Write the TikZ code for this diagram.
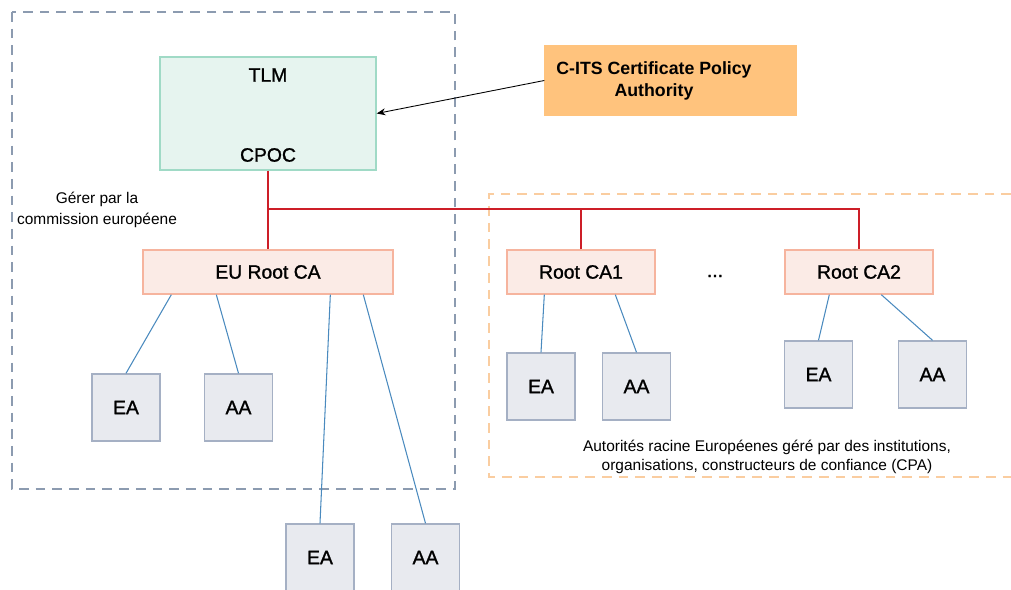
\documentclass[tikz,border=0pt]{standalone}
\usepackage{fontspec}
\setmainfont{Liberation Sans}
\newfontfamily\boxfont{Liberation Sans}[BoldFont={Liberation Sans},BoldFeatures={FakeBold=1.2}]
\usetikzlibrary{arrows.meta,calc}

\definecolor{frameGrey}{RGB}{140,155,176}
\definecolor{frameOrange}{RGB}{250,205,160}
\definecolor{tlmFill}{RGB}{230,244,239}
\definecolor{tlmLine}{RGB}{160,218,198}
\definecolor{cpaFill}{RGB}{255,195,125}
\definecolor{rootFill}{RGB}{251,235,230}
\definecolor{rootLine}{RGB}{246,180,158}
\definecolor{leafFill}{RGB}{232,234,239}
\definecolor{leafLine}{RGB}{165,176,196}
\definecolor{linkBlue}{RGB}{74,138,190}
\definecolor{linkRed}{RGB}{205,30,40}

\begin{document}
\begin{tikzpicture}[x=0.02cm,y=-0.02cm,>={Stealth[length=5pt,width=4pt]},
  box/.style={draw,line width=0.8pt,inner sep=0pt,font=\boxfont\bfseries\fontsize{11}{13}\selectfont},
  rootbox/.style={box,draw=rootLine,fill=rootFill,minimum width=2.96cm,minimum height=0.88cm},
  leafbox/.style={box,draw=leafLine,fill=leafFill,minimum width=1.36cm,minimum height=1.34cm},
  note/.style={align=center,font=\fontsize{8.8}{10.8}\selectfont},
  framedash/.style={line width=0.6pt,dash pattern=on 5.5pt off 4pt},
  redlink/.style={linkRed,line width=0.7pt},
  bluelink/.style={linkBlue,line width=0.6pt}]
\useasboundingbox (0,0) rectangle (1011,590);

% Frames
\draw[framedash,frameGrey] (12,12) rectangle (455,489);
\draw[framedash,frameOrange] (1011,194) -- (489,194) -- (489,477) -- (1011,477);

% TLM and policy authority
\node[box,draw=tlmLine,fill=tlmFill,minimum width=4.32cm,minimum height=2.26cm] (tlm) at (268,113.5) {};
\node[box,draw=none] (tlmlabel) at (268,75) {TLM};
\node[box,draw=none] (cpoc) at (268,155) {CPOC};
\node[box,draw=cpaFill,fill=cpaFill,minimum width=5.02cm,minimum height=1.38cm] (cpa) at (670.5,80.5) {};
\node[box,draw=none,align=center,font=\rmfamily\bfseries\fontsize{10.1}{12.5}\selectfont] (cpalabel) at (654,81) {C-ITS Certificate Policy\\Authority};
\draw[->,line width=0.5pt] (cpa.west) -- (tlm.east);

% Root CAs
\node[rootbox,minimum width=5cm] (euroot) at (268,272) {EU Root CA};
\node[rootbox] (rootca1) at (581,272) {Root CA1};
\node[rootbox] (rootca2) at (859,272) {Root CA2};
\node[box,draw=none] (dots) at (715,276) {...};

% red bus
\coordinate (bus) at (268,209);
\draw[redlink] (tlm.south) -- (euroot.north);
\draw[redlink] (bus) -| (rootca2.north);
\draw[redlink] (rootca1.north) |- (bus);

% EA / AA
\node[leafbox] (ea1) at (126,407.5) {EA};
\node[leafbox] (aa1) at (238.5,407.5) {AA};
\node[leafbox] (ea2) at (320,557.5) {EA};
\node[leafbox] (aa2) at (425.5,557.5) {AA};
\node[leafbox] (ea3) at (541,386.5) {EA};
\node[leafbox] (aa3) at (636.5,386.5) {AA};
\node[leafbox] (ea4) at (818.5,374.5) {EA};
\node[leafbox] (aa4) at (932.5,374.5) {AA};

\draw[bluelink] ($(euroot.south west)+(29,0)$) -- (ea1.north);
\draw[bluelink] ($(euroot.south west)+(74,0)$) -- (aa1.north);
\draw[bluelink] ($(euroot.south west)+(188,0)$) -- (ea2.north);
\draw[bluelink] ($(euroot.south west)+(221,0)$) -- (aa2.north);
\draw[bluelink] ($(rootca1.south west)+(38,0)$) -- (ea3.north);
\draw[bluelink] ($(rootca1.south west)+(109,0)$) -- (aa3.north);
\draw[bluelink] ($(rootca2.south west)+(45,0)$) -- (ea4.north);
\draw[bluelink] ($(rootca2.south west)+(97,0)$) -- (aa4.north);

% notes
\node[note,font=\fontsize{8.8}{12}\selectfont] (eunote) at (97,210) {Gérer par la\\commission européene};
\node[note] (cpanote) at (767,457) {Autorités racine Européenes géré par des institutions,\\organisations, constructeurs de confiance (CPA)};
\end{tikzpicture}
\end{document}
